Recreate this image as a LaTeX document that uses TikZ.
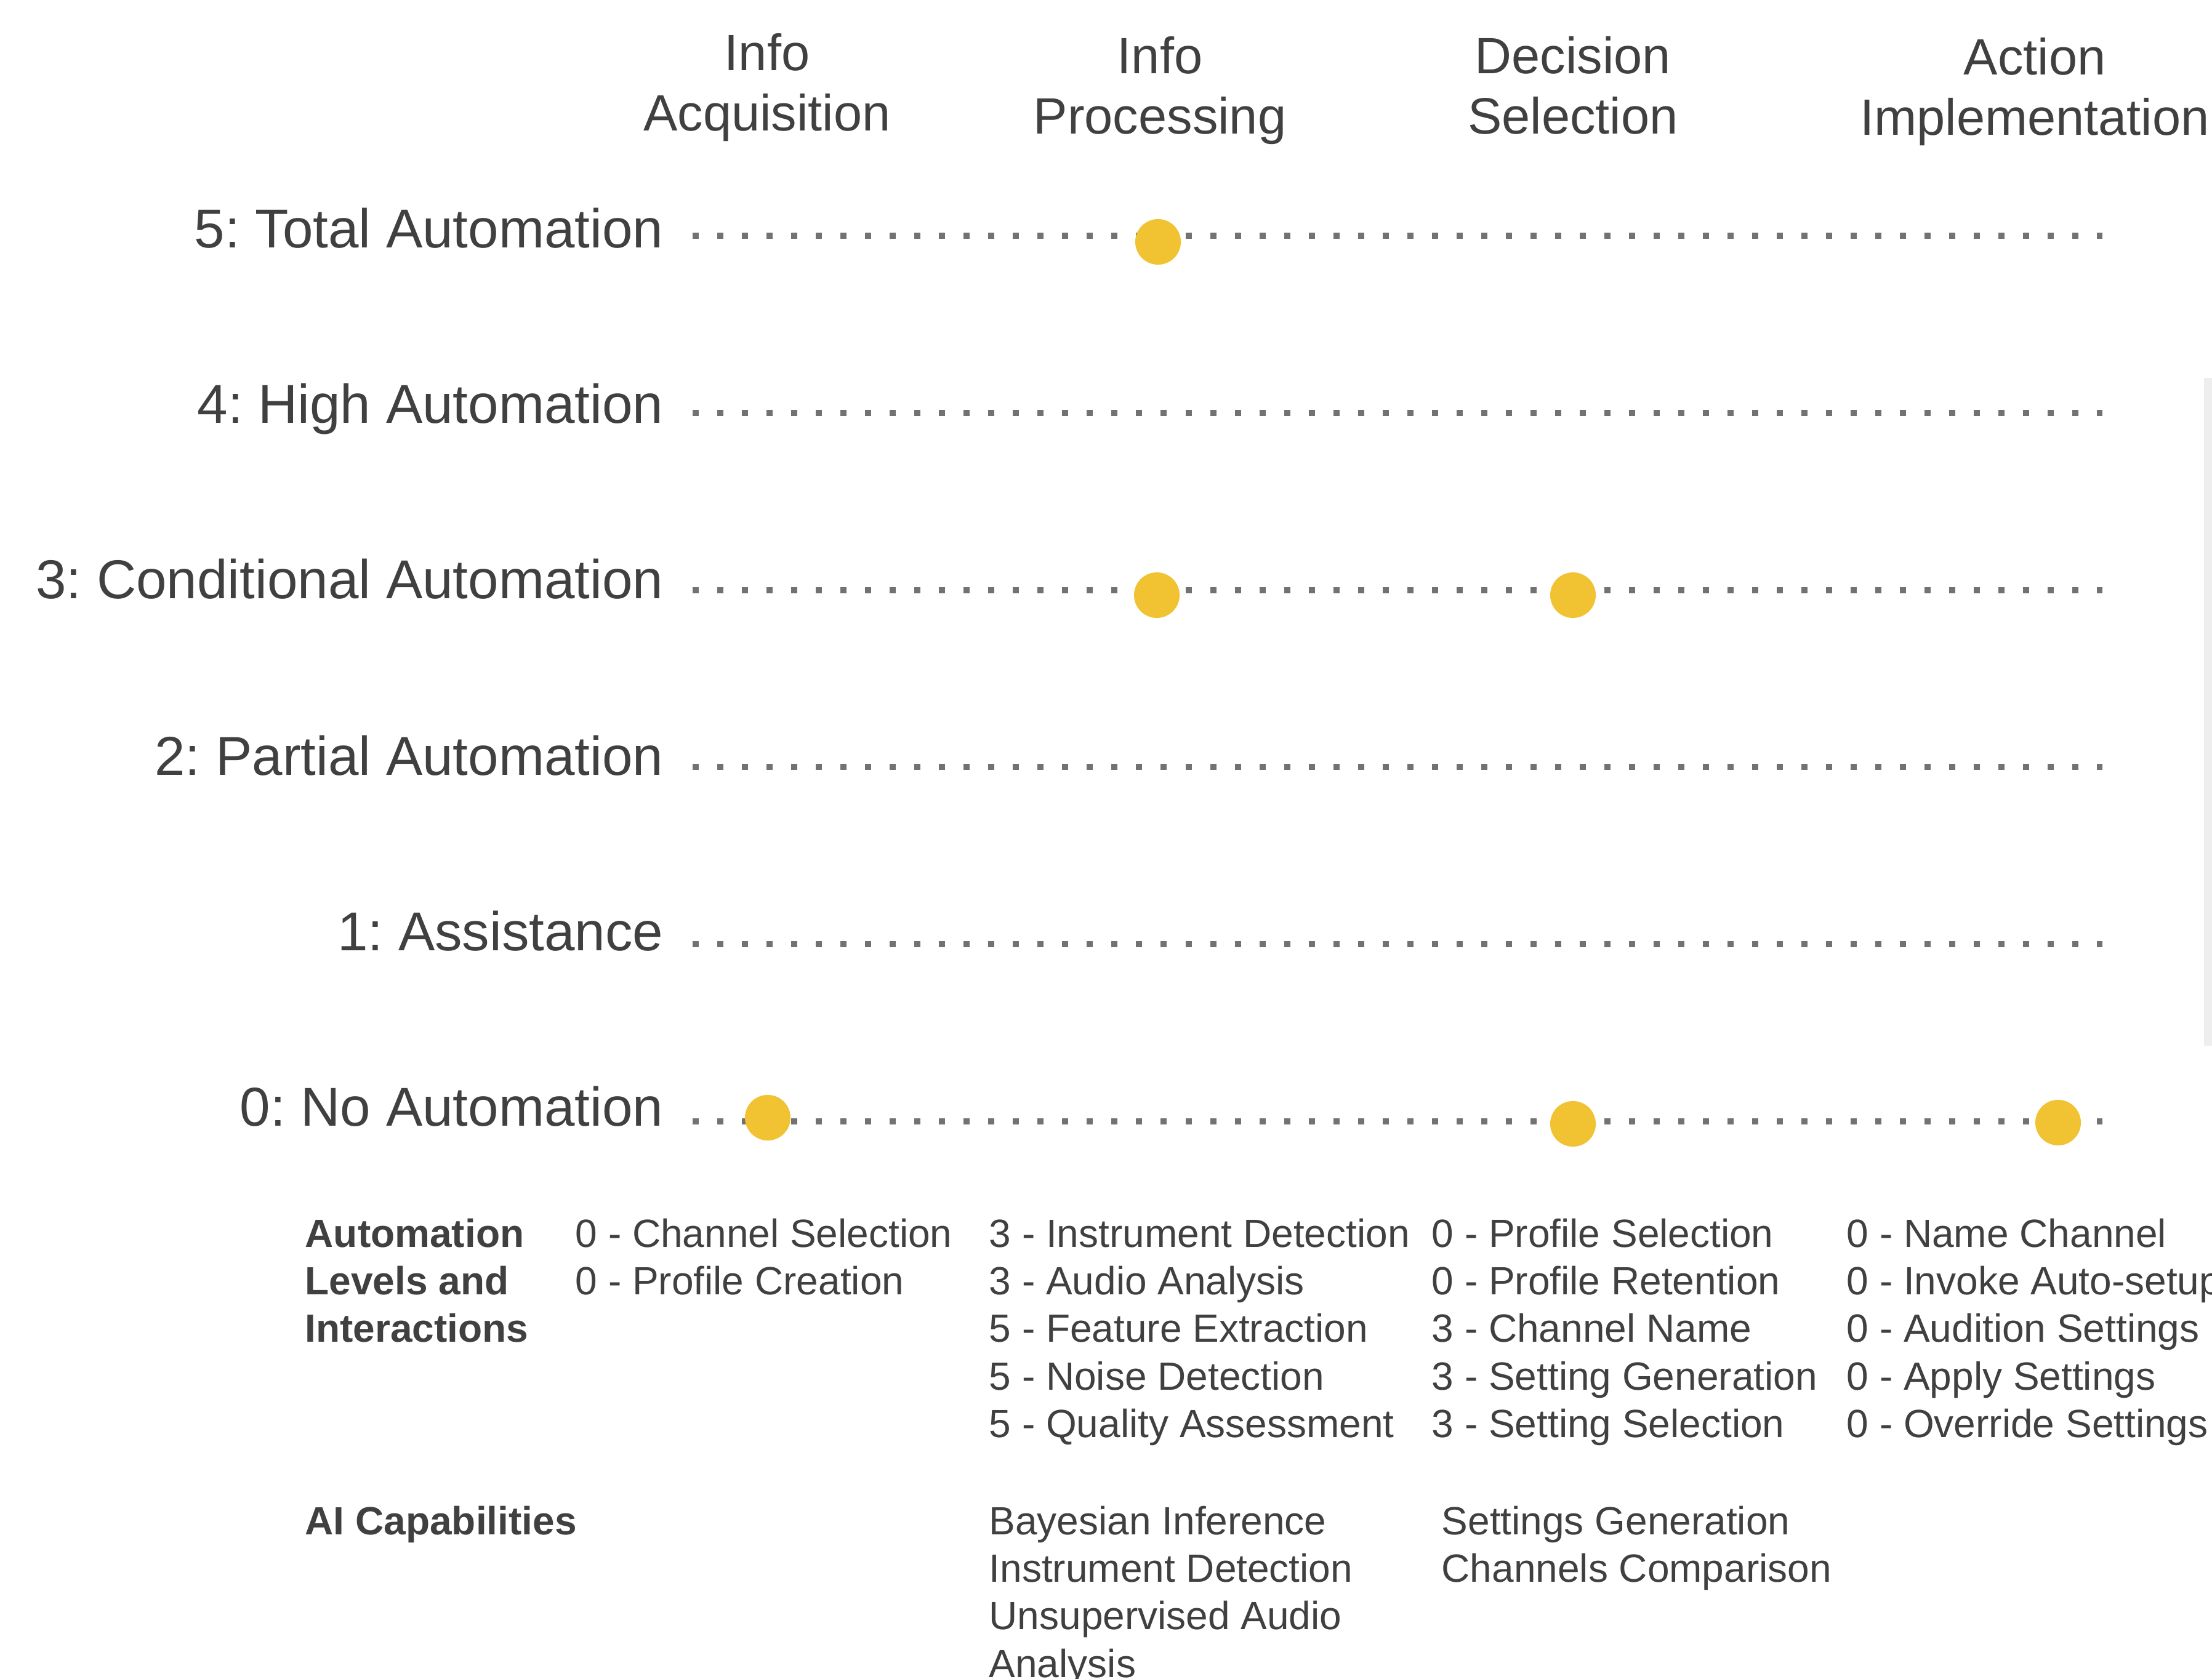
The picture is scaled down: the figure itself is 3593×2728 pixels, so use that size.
\documentclass[tikz,border=0pt]{standalone}
\usepackage{fontspec}
\setmainfont{Liberation Sans}
\usepackage{tikz}
\definecolor{ink}{HTML}{404040}
\definecolor{dotgrey}{HTML}{767171}
\definecolor{gold}{HTML}{F1C232}
\definecolor{barfill}{HTML}{EEEEEE}
\frenchspacing

\begin{document}
\begin{tikzpicture}[x=0.01cm, y=-0.01cm,
lvlname/.style={anchor=base east, inner sep=0pt, text=ink, font=\fontsize{25.3}{30}\selectfont},
stage/.style={anchor=north, align=center, inner sep=0pt, text=ink, font=\fontsize{23.6}{27.9}\selectfont},
cell/.style={anchor=north west, align=left, inner sep=0pt, text=ink, font=\fontsize{18.2}{22}\selectfont},
rowhead/.style={cell, font=\fontsize{18.2}{22}\selectfont\bfseries},
track/.style={draw=dotgrey, line width=0.1cm, dash pattern=on 0.1cm off 0.3cm},
score/.style={circle, fill=gold, inner sep=0pt, minimum size=0.74cm},
]
\path[use as bounding box, fill=white] (0,0) rectangle (3593,2728);
\fill[barfill] (3580,614) rectangle (3600,1699);

\node[stage] (acq) at (1246,54) {Info\\Acquisition};
\node[stage] (proc) at (1884,59) {Info\\Processing};
\node[stage] (dec) at (2555,59) {Decision\\Selection};
\node[stage] (act) at (3305,61) {Action\\Implementation};

\node[lvlname] (l5) at (1078,403) {5: Total Automation};
\node[lvlname] (l4) at (1078,688) {4: High Automation};
\node[lvlname] (l3) at (1078,973) {3: Conditional Automation};
\node[lvlname] (l2) at (1078,1259) {2: Partial Automation};
\node[lvlname] (l1) at (1078,1544) {1: Assistance};
\node[lvlname] (l0) at (1078,1829) {0: No Automation};

\coordinate (s5) at (1125,383);  \coordinate (e5) at (3415,383);
\coordinate (s4) at (1125,671);  \coordinate (e4) at (3415,671);
\coordinate (s3) at (1125,959);  \coordinate (e3) at (3415,959);
\coordinate (s2) at (1125,1246); \coordinate (e2) at (3415,1246);
\coordinate (s1) at (1125,1534); \coordinate (e1) at (3415,1534);
\coordinate (s0) at (1125,1822); \coordinate (e0) at (3415,1822);

\path
(s5) edge[track] (e5)
(s4) edge[track] (e4)
(s3) edge[track] (e3)
(s2) edge[track] (e2)
(s1) edge[track] (e1)
(s0) edge[track] (e0)
;

\node[score] (acq0) at (1247,1816) {};
\node[score] (proc5) at (1881,393) {};
\node[score] (proc3) at (1879,967) {};
\node[score] (dec3) at (2555,967) {};
\node[score] (dec0) at (2555,1826) {};
\node[score] (act0) at (3343,1824) {};

\node[rowhead] (lvlhead) at (495,1979) {Automation\\Levels and\\Interactions};
\node[cell] (acqlist) at (934,1979) {0 - Channel Selection\\0 - Profile Creation};
\node[cell] (proclist) at (1606,1979) {3 - Instrument Detection\\3 - Audio Analysis\\5 - Feature Extraction\\5 - Noise Detection\\5 - Quality Assessment};
\node[cell] (declist) at (2325,1979) {0 - Profile Selection\\0 - Profile Retention\\3 - Channel Name\\3 - Setting Generation\\3 - Setting Selection};
\node[cell] (actlist) at (2999,1979) {0 - Name Channel\\0 - Invoke Auto-setup\\0 - Audition Settings\\0 - Apply Settings\\0 - Override Settings};

\node[rowhead] (aihead) at (495,2446) {AI Capabilities};
\node[cell] (procai) at (1606,2446) {Bayesian Inference\\Instrument Detection\\Unsupervised Audio\\Analysis};
\node[cell] (decai) at (2341,2446) {Settings Generation\\Channels Comparison};
\end{tikzpicture}
\end{document}
